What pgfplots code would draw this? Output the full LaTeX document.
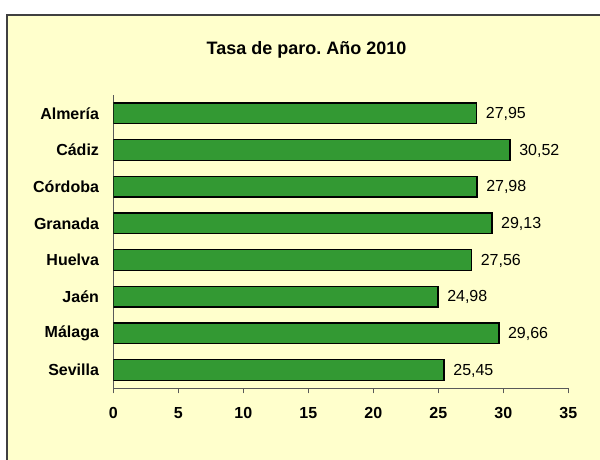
\documentclass[border=0pt]{standalone}
\usepackage{fontspec}
\setmainfont{Liberation Sans}
\usepackage{pgfplots}
\pgfplotsset{compat=1.18}
\definecolor{bgyellow}{RGB}{255,255,204}
\definecolor{bargreen}{RGB}{51,153,51}
\frenchspacing
\begin{document}
\begin{tikzpicture}
\useasboundingbox (0pt,0pt) rectangle (450pt,-345pt);
\clip (0pt,0pt) rectangle (450pt,-345pt);
\fill[white] (0pt,0pt) rectangle (450pt,-345pt);
\fill[bgyellow] (5.25pt,-11.25pt) rectangle (500pt,-400pt);
\draw[black!75, line width=1.1pt] (5.25pt,-400pt) -- (5.25pt,-11.25pt) -- (500pt,-11.25pt);
\node[font=\fontsize{13.5}{16}\selectfont\bfseries, inner sep=0pt] at (229.9pt,-37.5pt) {Tasa de paro. Año 2010};
\begin{axis}[
  at={(85pt,-71.25pt)}, anchor=north west,
  scale only axis, width=341.25pt, height=220pt,
  xbar, bar width=15.4pt,
  xmin=0, xmax=35, ymin=-0.5, ymax=7.5,
  enlargelimits=false,
  xtick={0,5,...,35},
  ytick={0,...,7},
  yticklabels={Sevilla,Málaga,Jaén,Huelva,Granada,Córdoba,Cádiz,Almería},
  axis x line*=bottom, axis y line*=left,
  axis line style={black!65, line width=0.9pt},
  tick align=outside,
  major tick length=3.75pt,
  xtick style={black!65, line width=0.9pt},
  ytick style={draw=none},
  /pgf/number format/assume math mode=true,
  xticklabel style={font=\fontsize{12}{14}\selectfont\bfseries, yshift=-7pt},
  yticklabel style={font=\fontsize{12}{14}\selectfont\bfseries, xshift=-3.5pt},
  point meta=x,
  nodes near coords={\pgfmathprintnumber[fixed,fixed zerofill,precision=2,use comma,assume math mode=true]{\pgfplotspointmeta}},
  nodes near coords style={font=\fontsize{12}{14}\selectfont, anchor=west, xshift=3pt, yshift=-0.5pt, text=black},
]
\addplot[fill=bargreen, draw=black, line width=1.1pt] coordinates {
  (27.95,7) (30.52,6) (27.98,5) (29.13,4) (27.56,3) (24.98,2) (29.66,1) (25.45,0)
};
\end{axis}
\end{tikzpicture}
\end{document}
